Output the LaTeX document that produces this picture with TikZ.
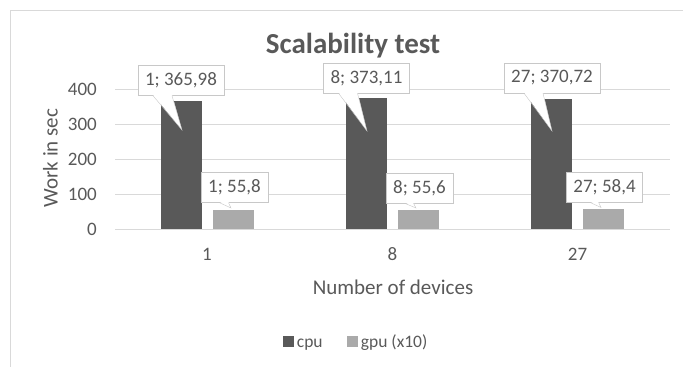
\documentclass[tikz,border=0pt]{standalone}
\usepackage{fontspec}
\setmainfont{Carlito}
\usetikzlibrary{positioning}

\definecolor{cpugray}{RGB}{89,89,89}
\definecolor{gpugray}{RGB}{170,170,170}
\definecolor{txtgray}{RGB}{89,89,89}
\definecolor{gridgray}{RGB}{217,217,217}
\definecolor{boxgray}{RGB}{200,200,200}

\tikzset{
	ticklabel/.style={text=txtgray, inner sep=0pt, font=\fontsize{19}{21}\selectfont},
	axistitle/.style={text=txtgray, inner sep=0pt, font=\fontsize{21}{24}\selectfont},
	valuebox/.style={draw=boxgray, fill=white, text=txtgray, inner xsep=7pt, inner ysep=0pt,
		minimum height=30pt, font=\fontsize{19}{21}\selectfont},
	legkey/.style={inner sep=0pt, minimum size=11pt},
	legtext/.style={text=txtgray, inner sep=0pt, font=\fontsize{17.5}{20}\selectfont}
}

\begin{document}
\begin{tikzpicture}[x=1pt,y=1pt]
		\useasboundingbox (0,0) rectangle (683,-367);
		% chart frame
		\draw [gridgray] (683,-10.5) -- (10,-10.5) -- (10,-367);
		% title
		\node [text=txtgray, inner sep=0pt, anchor=base, font=\bfseries\fontsize{29}{32}\selectfont] (title) at (353,-53) {Scalability test};
		% grid lines
		\draw [gridgray] (115,-229) -- (670,-229);
		\draw [gridgray] (115,-194) -- (670,-194);
		\draw [gridgray] (115,-159) -- (670,-159);
		\draw [gridgray] (115,-124) -- (670,-124);
		\draw [gridgray] (115,-89) -- (670,-89);
		% y ticks
		\node [ticklabel, anchor=east] (y0) at (97,-229) {0};
		\node [ticklabel, anchor=east] (y100) at (97,-194) {100};
		\node [ticklabel, anchor=east] (y200) at (97,-159) {200};
		\node [ticklabel, anchor=east] (y300) at (97,-124) {300};
		\node [ticklabel, anchor=east] (y400) at (97,-89) {400};
		\node [axistitle, rotate=90] (ytitle) at (50.5,-158) {Work in sec};
		% bars
		\fill [cpugray] (161,-229) rectangle (202,-100.9);
		\fill [gpugray] (212.5,-229) rectangle (253.5,-209.5);
		\fill [cpugray] (346,-229) rectangle (387,-98.4);
		\fill [gpugray] (397.5,-229) rectangle (438.5,-209.5);
		\fill [cpugray] (531,-229) rectangle (572,-99.2);
		\fill [gpugray] (582.5,-229) rectangle (623.5,-208.6);
		% x ticks
		\node [ticklabel] (x1) at (207,-254) {1};
		\node [ticklabel] (x8) at (392.5,-254) {8};
		\node [ticklabel] (x27) at (577.5,-254) {27};
		\node [axistitle] (xtitle) at (393,-287) {Number of devices};
		% cpu value labels
		\node [valuebox] (cpuA) at (181,-80.5) {1; 365,98};
		\coordinate (cpuAtip) at (182,-130);
		\fill [white] ([xshift=-28pt,yshift=1pt]cpuA.south) -- (cpuAtip) -- ([xshift=-9pt,yshift=1pt]cpuA.south) -- cycle;
		\draw [boxgray] ([xshift=-28pt]cpuA.south) -- (cpuAtip) -- ([xshift=-9pt]cpuA.south);
		\node [valuebox] (cpuB) at (366.5,-78) {8; 373,11};
		\coordinate (cpuBtip) at (367,-131);
		\fill [white] ([xshift=-28pt,yshift=1pt]cpuB.south) -- (cpuBtip) -- ([xshift=-9pt,yshift=1pt]cpuB.south) -- cycle;
		\draw [boxgray] ([xshift=-28pt]cpuB.south) -- (cpuBtip) -- ([xshift=-9pt]cpuB.south);
		\node [valuebox] (cpuC) at (552,-78) {27; 370,72};
		\coordinate (cpuCtip) at (552,-131);
		\fill [white] ([xshift=-28pt,yshift=1pt]cpuC.south) -- (cpuCtip) -- ([xshift=-9pt,yshift=1pt]cpuC.south) -- cycle;
		\draw [boxgray] ([xshift=-28pt]cpuC.south) -- (cpuCtip) -- ([xshift=-9pt]cpuC.south);
		% gpu value labels
		\node [valuebox] (gpuA) at (234.5,-187.5) {1; 55,8};
		\coordinate (gpuAtip) at (231,-208);
		\fill [white] ([xshift=-15pt,yshift=1pt]gpuA.south) -- (gpuAtip) -- ([xshift=-6pt,yshift=1pt]gpuA.south) -- cycle;
		\draw [boxgray] ([xshift=-15pt]gpuA.south) -- (gpuAtip) -- ([xshift=-6pt]gpuA.south);
		\node [valuebox] (gpuB) at (419.5,-188) {8; 55,6};
		\coordinate (gpuBtip) at (416,-208);
		\fill [white] ([xshift=-15pt,yshift=1pt]gpuB.south) -- (gpuBtip) -- ([xshift=-6pt,yshift=1pt]gpuB.south) -- cycle;
		\draw [boxgray] ([xshift=-15pt]gpuB.south) -- (gpuBtip) -- ([xshift=-6pt]gpuB.south);
		\node [valuebox] (gpuC) at (604.5,-187) {27; 58,4};
		\coordinate (gpuCtip) at (601,-207.5);
		\fill [white] ([xshift=-15pt,yshift=1pt]gpuC.south) -- (gpuCtip) -- ([xshift=-6pt,yshift=1pt]gpuC.south) -- cycle;
		\draw [boxgray] ([xshift=-15pt]gpuC.south) -- (gpuCtip) -- ([xshift=-6pt]gpuC.south);
		% legend
		\node [legkey, fill=cpugray] (cpukey) at (288.5,-341.5) {};
		\node [legtext, anchor=base west] (cputext) at ([xshift=2.5pt,yshift=-0.5pt]cpukey.south east) {cpu};
		\node [legkey, fill=gpugray] (gpukey) at (352.5,-341.5) {};
		\node [legtext, anchor=base west] (gputext) at ([xshift=2.5pt,yshift=-0.5pt]gpukey.south east) {gpu (x10)};
	\end{tikzpicture}
\end{document}
